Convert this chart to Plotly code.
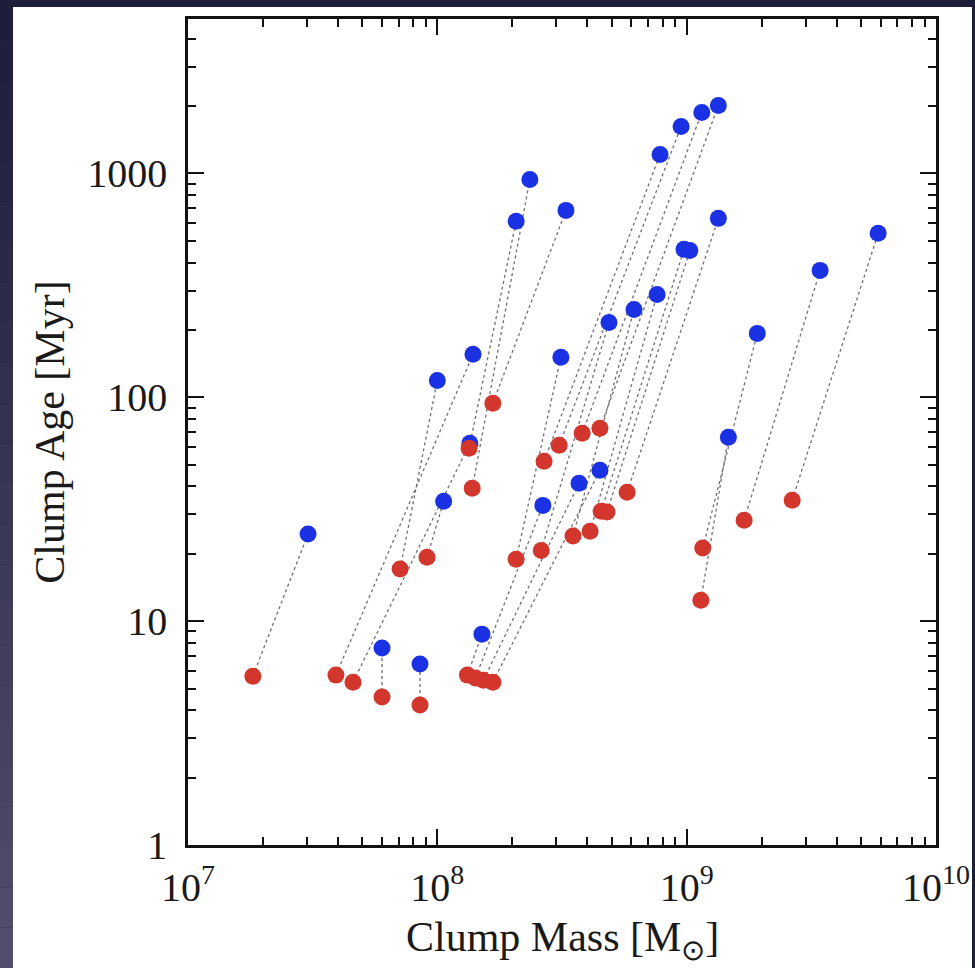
import plotly.graph_objects as go

# Clump pairs: initial state (red) and evolved state (blue)
mass_initial = [1.82e7, 3.92e7, 4.59e7, 6.0e7, 8.52e7, 7.09e7, 9.09e7, 1.34e8, 1.38e8, 1.67e8,
                1.32e8, 1.42e8, 1.53e8, 1.67e8, 2.07e8, 2.61e8, 3.50e8, 4.10e8, 4.54e8, 4.79e8,
                5.77e8, 2.68e8, 3.08e8, 3.81e8, 4.49e8, 1.16e9, 1.14e9, 1.70e9, 2.65e9]
age_initial = [5.68, 5.74, 5.34, 4.58, 4.22, 17.1, 19.3, 59.2, 39.2, 94.0,
               5.74, 5.57, 5.45, 5.34, 18.9, 20.7, 24.0, 25.2, 31.0, 30.7,
               37.7, 51.8, 61.1, 69.1, 72.7, 21.2, 12.4, 28.2, 34.7]
mass_final = [3.03e7, 1.39e8, 1.35e8, 6.0e7, 8.52e7, 1.0e8, 1.06e8, 2.07e8, 2.35e8, 3.28e8,
              1.51e8, 2.65e8, 3.70e8, 4.49e8, 3.13e8, 4.88e8, 6.15e8, 7.61e8, 9.76e8, 1.03e9,
              1.34e9, 7.82e8, 9.50e8, 1.15e9, 1.34e9, 1.92e9, 1.47e9, 3.43e9, 5.86e9]
age_final = [24.5, 155.6, 62.3, 7.58, 6.43, 119.0, 34.3, 611.0, 940.0, 684.0,
             8.75, 32.9, 41.3, 47.2, 151.0, 216.0, 247.0, 288.0, 458.0, 453.0,
             630.0, 1215.0, 1621.0, 1873.0, 2012.0, 193.0, 66.3, 369.0, 540.0]

x_ticks = [1e7, 1e8, 1e9, 1e10]
x_ticktext = ["10<sup>7</sup>", "10<sup>8</sup>", "10<sup>9</sup>", "10<sup>10</sup>"]
y_ticks = [1, 10, 100, 1000]
y_ticktext = ["1", "10", "100", "1000"]

RED = "#d3362c"
BLUE = "#1a32e4"
SERIF = "Liberation Serif, Times New Roman, serif"
INK = "#1a1a1a"

# connector segments, separated by None
seg_x, seg_y = [], []
for m0, a0, m1, a1 in zip(mass_initial, age_initial, mass_final, age_final):
    seg_x += [m0, m1, None]
    seg_y += [a0, a1, None]

fig = go.Figure()
fig.add_trace(go.Scatter(x=seg_x, y=seg_y, mode="lines",
                         line=dict(color="#707070", width=1.3, dash="dot"),
                         hoverinfo="skip", showlegend=False))
fig.add_trace(go.Scatter(x=mass_final, y=age_final, mode="markers",
                         marker=dict(color=BLUE, size=17, line=dict(width=0)),
                         showlegend=False))
fig.add_trace(go.Scatter(x=mass_initial, y=age_initial, mode="markers",
                         marker=dict(color=RED, size=17, line=dict(width=0)),
                         showlegend=False))

def minor_vals(lo, hi):
    vals = []
    for d in range(lo, hi):
        for k in range(2, 10):
            vals.append(k * 10 ** d)
    return vals

axis_common = dict(
    showline=True, linecolor="#111", linewidth=2.5, mirror="ticks",
    ticks="inside", ticklen=16, tickwidth=2, tickcolor="#111",
    showgrid=False, zeroline=False, automargin=False,
    tickfont=dict(family=SERIF, size=40, color=INK),
)

fig.update_xaxes(
    type="log", range=[7, 10],
    tickmode="array", tickvals=x_ticks, ticktext=x_ticktext,
    minor=dict(tickmode="array", tickvals=minor_vals(7, 10), ticks="inside",
               ticklen=8, tickwidth=2, tickcolor="#111", showgrid=False),
    ticklabelstandoff=5,
    **axis_common,
)
fig.update_yaxes(
    type="log", range=[0, 3.69],
    tickmode="array", tickvals=y_ticks, ticktext=y_ticktext,
    minor=dict(tickmode="array", tickvals=minor_vals(0, 4), ticks="inside",
               ticklen=8, tickwidth=2, tickcolor="#111", showgrid=False),
    title=dict(text="Clump Age [Myr]",
               font=dict(family=SERIF, size=42, color=INK), standoff=10),
    ticklabelstandoff=10,
    **axis_common,
)

# slide backdrop: dark frame with a white panel behind the chart
L, R, T, B = 188, 936, 19, 845
W, H = 975, 968
pw, ph = R - L, B - T
def px_x(v):
    return (v - L) / pw
def px_y(v):
    return (B - v) / ph

shapes = []
# left strip gradient, dark navy at top to muted violet at bottom
n = 24
c0 = (28, 30, 58)
c1 = (82, 78, 108)
for i in range(n):
    t = i / (n - 1)
    c = tuple(int(c0[j] + (c1[j] - c0[j]) * t) for j in range(3))
    shapes.append(dict(type="rect", xref="paper", yref="paper", layer="below",
                       x0=px_x(0), x1=px_x(13),
                       y0=px_y(H * (i + 1) / n), y1=px_y(H * i / n),
                       fillcolor="rgb(%d,%d,%d)" % c, line=dict(width=0)))
shapes.append(dict(type="rect", xref="paper", yref="paper", layer="below",
                   x0=px_x(13), x1=px_x(972), y0=px_y(H), y1=px_y(7),
                   fillcolor="white", line=dict(width=0)))

fig.update_layout(
    width=W, height=H,
    margin=dict(l=L, r=W - R, t=T, b=H - B),
    paper_bgcolor="#1c1e3a",
    plot_bgcolor="white",
    shapes=shapes,
    showlegend=False,
    annotations=[dict(text="Clump Mass [M<sub>⊙</sub>]", xref="paper", yref="paper",
                      x=0.5, y=px_y(940), xanchor="center", yanchor="middle",
                      showarrow=False, font=dict(family=SERIF, size=42, color=INK))],
)

fig.write_html("out.html")
